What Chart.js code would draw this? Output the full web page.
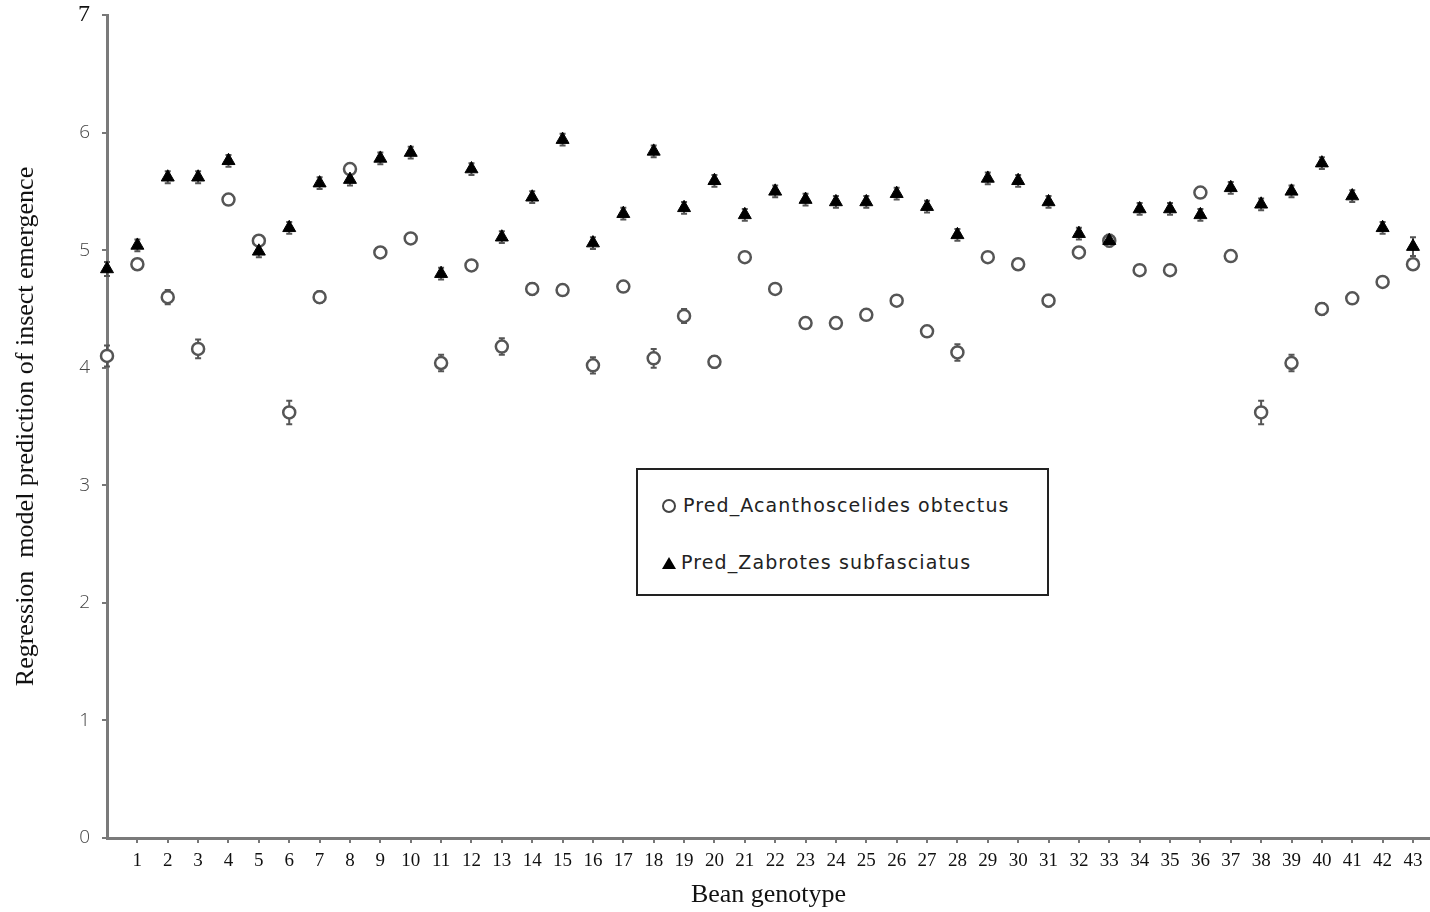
<!DOCTYPE html>
<html>
<head>
<meta charset="utf-8">
<script src="https://cdn.jsdelivr.net/npm/chart.js@4.4.1/dist/chart.umd.min.js"></script>
<style>
  body { margin: 0; background: #fff; }
  #wrap { position: relative; width: 1430px; height: 912px; }
  #legend {
    position: absolute; left: 636px; top: 468px; width: 413px; height: 128px;
    box-sizing: border-box; border: 2px solid #222; background: #fff;
    font-family: "DejaVu Sans", sans-serif; font-size: 19px; letter-spacing: 1.1px; color: #222;
  }
  .row { position: absolute; left: 24px; height: 22px; line-height: 22px; white-space: nowrap; }
  .circ { display: inline-block; width: 10px; height: 10px; border: 2px solid #444; border-radius: 50%; margin-right: 7px; vertical-align: -1px; }
  .tri { display: inline-block; width: 0; height: 0; border-left: 7px solid transparent; border-right: 7px solid transparent; border-bottom: 12px solid #000; margin-right: 5px; vertical-align: 0; }
</style>
</head>
<body>
<div id="wrap">
  <canvas id="chart" width="1430" height="912"></canvas>
  <div id="legend">
    <div class="row" style="top:24px"><span class="circ"></span>Pred_Acanthoscelides obtectus</div>
    <div class="row" style="top:81px"><span class="tri"></span>Pred_Zabrotes subfasciatus</div>
  </div>
</div>
<script>
// Bean genotypes on the x axis (0 sits on the y axis, unlabeled)
const genotypes = [0, 1, 2, 3, 4, 5, 6, 7, 8, 9, 10, 11, 12, 13, 14, 15, 16, 17, 18, 19, 20, 21,
    22, 23, 24, 25, 26, 27, 28, 29, 30, 31, 32, 33, 34, 35, 36, 37, 38, 39, 40, 41, 42, 43];

// Predicted insect emergence
const acanthoscelides = [4.10, 4.88, 4.60, 4.16, 5.43, 5.08, 3.62, 4.60, 5.69, 4.98, 5.10,
    4.04, 4.87, 4.18, 4.67, 4.66, 4.02, 4.69, 4.08, 4.44, 4.05, 4.94,
    4.67, 4.38, 4.38, 4.45, 4.57, 4.31, 4.13, 4.94, 4.88, 4.57, 4.98,
    5.08, 4.83, 4.83, 5.49, 4.95, 3.62, 4.04, 4.50, 4.59, 4.73, 4.88];
const zabrotes = [4.84, 5.04, 5.62, 5.62, 5.76, 4.99, 5.19, 5.57, 5.60, 5.78, 5.83,
    4.80, 5.69, 5.11, 5.45, 5.94, 5.06, 5.31, 5.84, 5.36, 5.59, 5.30,
    5.50, 5.43, 5.41, 5.41, 5.48, 5.37, 5.13, 5.61, 5.59, 5.41, 5.14,
    5.08, 5.35, 5.35, 5.30, 5.53, 5.39, 5.50, 5.74, 5.46, 5.19, 5.03];

// Error bar half-lengths
const acanthoscelidesErr = [0.09, 0.04, 0.06, 0.08, 0.04, 0.04, 0.10, 0.05, 0.04, 0.04, 0.04,
    0.07, 0.04, 0.07, 0.05, 0.04, 0.07, 0.04, 0.08, 0.06, 0.05, 0.04,
    0.04, 0.04, 0.04, 0.04, 0.04, 0.04, 0.07, 0.04, 0.04, 0.05, 0.04,
    0.04, 0.04, 0.04, 0.04, 0.04, 0.10, 0.07, 0.05, 0.04, 0.04, 0.04];
const zabrotesErr = [0.06, 0.05, 0.05, 0.05, 0.05, 0.05, 0.05, 0.05, 0.05, 0.05, 0.05,
    0.05, 0.05, 0.05, 0.05, 0.05, 0.05, 0.05, 0.05, 0.05, 0.05, 0.05,
    0.05, 0.05, 0.05, 0.05, 0.05, 0.05, 0.05, 0.05, 0.05, 0.05, 0.05,
    0.05, 0.05, 0.05, 0.05, 0.05, 0.05, 0.05, 0.05, 0.05, 0.05, 0.08];

const yTicks = [0, 1, 2, 3, 4, 5, 6, 7];

function toPoints(vals) {
    return vals.map((v, i) => ({ x: genotypes[i], y: v }));
}

// Whiskers drawn under the markers
const errorBars = {
    id: "errorBars",
    beforeDatasetsDraw(chart) {
        const ctx = chart.ctx;
        const xs = chart.scales.x, ys = chart.scales.y;
        const sets = [[acanthoscelides, acanthoscelidesErr], [zabrotes, zabrotesErr]];
        ctx.save();
        ctx.strokeStyle = "#555";
        ctx.lineWidth = 2;
        sets.forEach(([vals, errs]) => {
            vals.forEach((v, i) => {
                const px = xs.getPixelForValue(genotypes[i]);
                const top = ys.getPixelForValue(v + errs[i]);
                const bot = ys.getPixelForValue(v - errs[i]);
                ctx.beginPath();
                ctx.moveTo(px, top); ctx.lineTo(px, bot);
                ctx.moveTo(px - 3, top); ctx.lineTo(px + 3, top);
                ctx.moveTo(px - 3, bot); ctx.lineTo(px + 3, bot);
                ctx.stroke();
            });
        });
        ctx.restore();
    }
};

const serif = "'Liberation Serif', 'Times New Roman', serif";

new Chart(document.getElementById("chart"), {
    type: "scatter",
    data: {
        datasets: [{
            label: "Pred_Acanthoscelides obtectus",
            data: toPoints(acanthoscelides),
            order: 2,
            pointStyle: "circle",
            pointRadius: 6,
            pointBorderWidth: 2.5,
            pointBorderColor: "#555",
            pointBackgroundColor: "#fff",
            clip: false
        }, {
            label: "Pred_Zabrotes subfasciatus",
            data: toPoints(zabrotes),
            order: 1,
            pointStyle: "triangle",
            pointRadius: 7.5,
            pointBorderWidth: 1,
            pointBorderColor: "#000",
            pointBackgroundColor: "#000",
            clip: false
        }]
    },
    options: {
        responsive: false,
        animation: false,
        layout: { autoPadding: false, padding: { top: 15, right: 0, left: 0, bottom: 0 } },
        plugins: { legend: { display: false }, tooltip: { enabled: false } },
        scales: {
            x: {
                type: "linear",
                min: 0,
                max: 43.56,
                afterBuildTicks: s => {
                    s.ticks = genotypes.filter(g => g > 0).map(g => ({ value: g }));
                },
                afterFit: s => { s.height = 74; s.paddingLeft = 0; s.paddingRight = 0; },
                ticks: {
                    autoSkip: false, maxRotation: 0, padding: 7,
                    color: "#111", font: { family: serif, size: 19 }
                },
                grid: { drawOnChartArea: false, drawTicks: true, tickLength: 5, color: "#777", lineWidth: 2 },
                border: { color: "#7a7a7a", width: 3 },
                title: {
                    display: true, text: "Bean genotype", color: "#111",
                    font: { family: serif, size: 26 }, padding: { top: 0, bottom: 1 }
                }
            },
            y: {
                min: 0,
                max: 7,
                afterBuildTicks: s => { s.ticks = yTicks.map(v => ({ value: v })); },
                afterFit: s => { s.width = 107; s.paddingTop = 0; s.paddingBottom = 0; },
                ticks: {
                    padding: 12,
                    color: c => c.tick && c.tick.value === 7 ? "#111" : "#444",
                    font: c => c.tick && c.tick.value === 7
                        ? { family: serif, size: 24 }
                        : { family: "'Open Sans', sans-serif", size: 19, weight: "300" }
                },
                grid: { drawOnChartArea: false, drawTicks: true, tickLength: 5, color: "#777", lineWidth: 2 },
                border: { color: "#7a7a7a", width: 3 },
                title: {
                    display: true, text: "Regression  model prediction of insect emergence", color: "#111",
                    font: { family: serif, size: 26 }, padding: { top: 11, bottom: 0 }
                }
            }
        }
    },
    plugins: [errorBars]
});
</script>
</body>
</html>
